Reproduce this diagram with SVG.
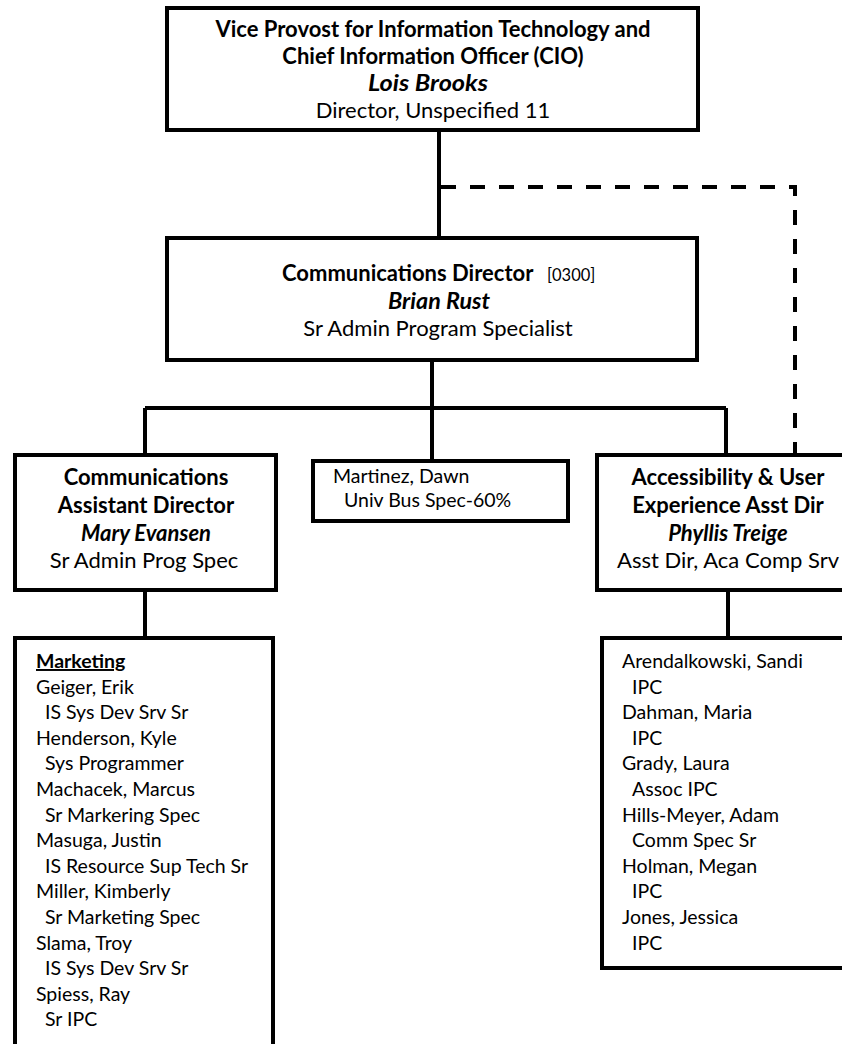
<svg xmlns="http://www.w3.org/2000/svg" width="842" height="1044" viewBox="0 0 842 1044">
<style>
.box{fill:#fff;stroke:#000;stroke-width:4}
.ln{fill:none;stroke:#000;stroke-width:4}
.dash{fill:none;stroke:#000;stroke-width:4;stroke-dasharray:15 14}
text{font-family:Lato,"Liberation Sans",sans-serif;font-size:19.5px;fill:#000}
.h{font-size:22px}
.c{text-anchor:middle}
.b{font-weight:bold}
.bi{font-weight:bold;font-style:italic}
.s{font-size:16.5px}
</style>
<rect width="842" height="1044" fill="#fff"/>
<g id="connectors">
<path class="ln" d="M439 130V238"/>
<path class="dash" d="M441 187H795V455"/>
<path class="ln" d="M432 360V408M145 408H726M145 408V455M432 408V461M726 408V455"/>
<path class="ln" d="M145 590V638M728 590V638"/>
</g>
<g id="cio">
<rect class="box" x="167" y="8" width="531" height="122"/>
<text class="h c b" x="433" y="37" font-size="22.5">Vice Provost for Information Technology and</text>
<text class="h c b" x="433" y="64" font-size="22.5">Chief Information Officer (CIO)</text>
<text class="h c bi" x="428" y="91" textLength="120" lengthAdjust="spacingAndGlyphs">Lois Brooks</text>
<text class="h c" x="433" y="118">Director, Unspecified 11</text>
</g>
<g id="comm-director">
<rect class="box" x="167" y="238" width="530" height="122"/>
<text class="h b" x="282" y="281">Communications Director</text>
<text class="s" x="547" y="281">[0300]</text>
<text class="h c bi" x="439" y="309" textLength="102" lengthAdjust="spacingAndGlyphs">Brian Rust</text>
<text class="h c" x="438" y="336">Sr Admin Program Specialist</text>
</g>
<g id="comm-asst-director">
<rect class="box" x="15" y="455" width="261" height="135"/>
<text class="h c b" x="146" y="485">Communications</text>
<text class="h c b" x="146" y="513">Assistant Director</text>
<text class="h c bi" x="146" y="541">Mary Evansen</text>
<text class="h c" x="144" y="568">Sr Admin Prog Spec</text>
</g>
<g id="martinez">
<rect class="box" x="313" y="461" width="255" height="60"/>
<text x="333" y="483">Martinez, Dawn</text>
<text x="344" y="507">Univ Bus Spec-60%</text>
</g>
<g id="accessibility">
<rect class="box" x="597" y="455" width="262" height="135"/>
<text class="h c b" x="728" y="485">Accessibility &amp; User</text>
<text class="h c b" x="728" y="513">Experience Asst Dir</text>
<text class="h c bi" x="728" y="541">Phyllis Treige</text>
<text class="h c" x="728" y="568">Asst Dir, Aca Comp Srv</text>
</g>
<g id="marketing">
<rect class="box" x="15" y="638" width="258" height="420"/>
<text class="b" x="36" y="668" text-decoration="underline">Marketing</text>
<text x="36" y="694">Geiger, Erik</text>
<text x="45" y="719">IS Sys Dev Srv Sr</text>
<text x="36" y="745">Henderson, Kyle</text>
<text x="45" y="770">Sys Programmer</text>
<text x="36" y="796">Machacek, Marcus</text>
<text x="45" y="822">Sr Markering Spec</text>
<text x="36" y="847">Masuga, Justin</text>
<text x="45" y="873">IS Resource Sup Tech Sr</text>
<text x="36" y="898">Miller, Kimberly</text>
<text x="45" y="924">Sr Marketing Spec</text>
<text x="36" y="950">Slama, Troy</text>
<text x="45" y="975">IS Sys Dev Srv Sr</text>
<text x="36" y="1001">Spiess, Ray</text>
<text x="45" y="1026">Sr IPC</text>
</g>
<g id="accessibility-staff">
<rect class="box" x="602" y="638" width="260" height="330"/>
<text x="622" y="668">Arendalkowski, Sandi</text>
<text x="632" y="694">IPC</text>
<text x="622" y="719">Dahman, Maria</text>
<text x="632" y="745">IPC</text>
<text x="622" y="770">Grady, Laura</text>
<text x="632" y="796">Assoc IPC</text>
<text x="622" y="822">Hills-Meyer, Adam</text>
<text x="632" y="847">Comm Spec Sr</text>
<text x="622" y="873">Holman, Megan</text>
<text x="632" y="898">IPC</text>
<text x="622" y="924">Jones, Jessica</text>
<text x="632" y="950">IPC</text>
</g>
</svg>
